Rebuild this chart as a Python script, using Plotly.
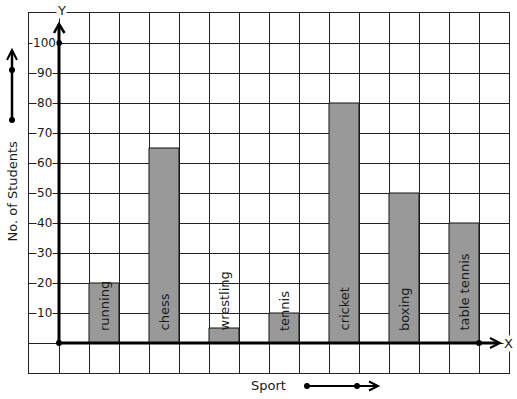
import plotly.graph_objects as go

categories = ["running", "chess", "wrestling", "tennis", "cricket", "boxing", "table tennis"]
students = [20, 65, 5, 10, 80, 50, 40]
y_ticks = [10, 20, 30, 40, 50, 60, 70, 80, 90, 100]

FONT = "DejaVu Sans"
TXT = "#1a1a1a"
GRID = "#222222"
W, H = 517, 399

# bar positions: every other cell starting one cell after the Y axis
xpos = [1.5 + 2 * i for i in range(len(categories))]

# pixel -> data / paper helpers (plot area: x 29..509, y 13..373)
def X(px):
    return (px - 59) / 30.0

def Y(py):
    return (343 - py) / 3.0

def PX(px):
    return px / W

def PY(py):
    return (H - py) / H

fig = go.Figure()
fig.add_trace(go.Bar(
    x=xpos, y=students, width=1,
    marker=dict(color="#999999", line=dict(color="#111111", width=1)),
    hoverinfo="skip",
))

shapes = []
ann = []

# axes with arrows
shapes.append(dict(type="line", xref="x", yref="y", x0=0, y0=0, x1=0, y1=Y(25),
                   line=dict(color="black", width=3)))
shapes.append(dict(type="path", xref="x", yref="y",
                   path=f"M {X(54)},{Y(33)} L {X(59)},{Y(24)} L {X(64.5)},{Y(33)}",
                   line=dict(color="black", width=2.5)))
shapes.append(dict(type="line", xref="x", yref="y", x0=0, y0=0, x1=X(498), y1=0,
                   line=dict(color="black", width=3)))
shapes.append(dict(type="path", xref="x", yref="y",
                   path=f"M {X(490)},{Y(338)} L {X(500)},{Y(343)} L {X(490)},{Y(348)}",
                   line=dict(color="black", width=2)))
for (cx, cy) in [(59, 43), (59, 343), (479, 343)]:
    shapes.append(dict(type="circle", xref="x", yref="y",
                       x0=X(cx - 3), x1=X(cx + 3), y0=Y(cy + 3), y1=Y(cy - 3),
                       fillcolor="black", line=dict(color="black", width=0)))

# margin arrows (paper coords = whole figure)
shapes.append(dict(type="line", xref="paper", yref="paper",
                   x0=PX(12), y0=PY(120), x1=PX(12), y1=PY(52),
                   line=dict(color="black", width=2.5)))
shapes.append(dict(type="path", xref="paper", yref="paper",
                   path=f"M {PX(7)},{PY(60)} L {PX(12)},{PY(50)} L {PX(17)},{PY(60)}",
                   line=dict(color="black", width=2)))
shapes.append(dict(type="line", xref="paper", yref="paper",
                   x0=PX(307), y0=PY(386), x1=PX(376), y1=PY(386),
                   line=dict(color="black", width=2)))
shapes.append(dict(type="path", xref="paper", yref="paper",
                   path=f"M {PX(369)},{PY(381.5)} L {PX(378)},{PY(386)} L {PX(369)},{PY(390.5)}",
                   line=dict(color="black", width=2)))
for (cx, cy) in [(12, 70), (12, 120), (307, 386), (357, 386)]:
    shapes.append(dict(type="circle", xref="paper", yref="paper",
                       x0=PX(cx - 3), x1=PX(cx + 3), y0=PY(cy + 3), y1=PY(cy - 3),
                       fillcolor="black", line=dict(color="black", width=0)))

# tick labels
for v in y_ticks:
    ann.append(dict(x=-0.5, y=v, xref="x", yref="y", text=str(v), showarrow=False,
                    bgcolor="white", borderpad=0, xanchor="center", yanchor="middle",
                    font=dict(family=FONT, size=12, color=TXT)))

# bar labels
for xp, c in zip(xpos, categories):
    ann.append(dict(x=xp, y=Y(333), xref="x", yref="y", text=c, showarrow=False,
                    textangle=-90, yanchor="bottom", xanchor="center",
                    font=dict(family=FONT, size=13, color=TXT)))

# axis letters and titles
ann.append(dict(x=PX(61), y=PY(10), xref="paper", yref="paper", text="Y", showarrow=False,
                xanchor="center", yanchor="middle",
                bgcolor="white", borderpad=0, font=dict(family=FONT, size=13, color=TXT)))
ann.append(dict(x=X(508.5), y=0, xref="x", yref="y", text="X", showarrow=False,
                xanchor="center", yanchor="middle",
                bgcolor="white", borderpad=0, font=dict(family=FONT, size=13, color=TXT)))
ann.append(dict(x=PX(11.5), y=PY(191), xref="paper", yref="paper", text="No. of Students",
                xanchor="center", yanchor="middle",
                showarrow=False, textangle=-90, font=dict(family=FONT, size=13, color=TXT)))
ann.append(dict(x=PX(268), y=PY(385), xref="paper", yref="paper", text="Sport",
                xanchor="center", yanchor="middle",
                showarrow=False, font=dict(family=FONT, size=13, color=TXT)))

fig.update_layout(
    width=W, height=H,
    margin=dict(l=0, r=0, t=0, b=0, autoexpand=False),
    paper_bgcolor="white", plot_bgcolor="white",
    showlegend=False,
    shapes=shapes, annotations=ann,
    xaxis=dict(domain=[29 / W, 509 / W], range=[-1, 15], tick0=-1, dtick=1,
               showgrid=True, gridcolor=GRID, gridwidth=1,
               zeroline=False, showticklabels=False, ticks="", automargin=False,
               showline=True, linecolor=GRID, linewidth=1, mirror=True, fixedrange=True),
    yaxis=dict(domain=[(H - 373) / H, (H - 13) / H], range=[-10, 110], tick0=-10, dtick=10,
               showgrid=True, gridcolor=GRID, gridwidth=1,
               zeroline=False, showticklabels=False, ticks="", automargin=False,
               showline=True, linecolor=GRID, linewidth=1, mirror=True, fixedrange=True),
)

fig.write_html("out.html", config={"displayModeBar": False},
               post_script="document.body.style.margin='0';document.body.style.overflow='hidden';")
